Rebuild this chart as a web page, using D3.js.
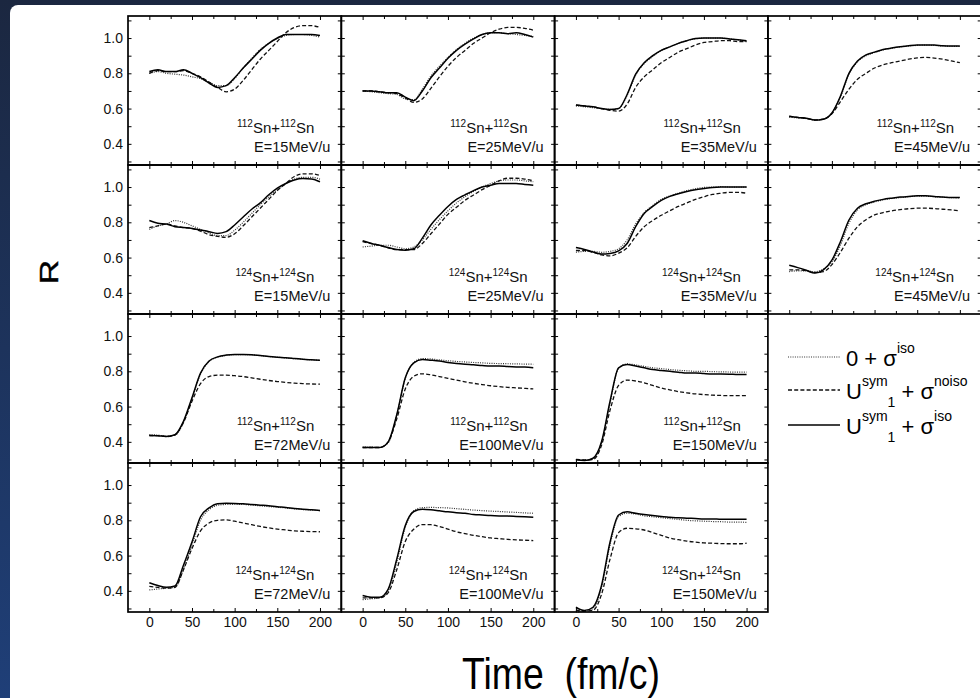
<!DOCTYPE html>
<html><head><meta charset="utf-8">
<script src="https://cdn.jsdelivr.net/npm/d3@7"></script>
<style>body{margin:0;background:#1c2a48;} svg{display:block}</style>
</head><body><svg id="c" width="980" height="698"></svg>
<script>
// ---------- data ----------
const times = [0,10,20,30,40,50,60,70,80,90,100,110,120,130,140,150,160,170,180,190,200];
const xTicks = [0,50,100,150,200];
const yTicks = [0.4,0.6,0.8,1.0];
const seriesNames = ["0 + σ", "U", "U"];

// 112Sn+112Sn
const dot112_15 = [0.80,0.81,0.80,0.795,0.79,0.78,0.77,0.75,0.73,0.73,0.77,0.83,0.885,0.935,0.97,0.995,1.015,1.02,1.02,1.015,1.005];
const dash112_15 = [0.80,0.815,0.81,0.81,0.815,0.80,0.78,0.75,0.72,0.695,0.71,0.76,0.82,0.88,0.93,0.98,1.03,1.06,1.07,1.07,1.06];
const sol112_15 = [0.81,0.82,0.81,0.81,0.82,0.80,0.775,0.745,0.72,0.73,0.775,0.83,0.88,0.93,0.97,1.0,1.02,1.02,1.02,1.02,1.015];

const dot112_25 = [0.70,0.695,0.69,0.685,0.68,0.655,0.65,0.71,0.785,0.84,0.89,0.935,0.97,1.0,1.02,1.03,1.03,1.025,1.02,1.015,1.01];
const dash112_25 = [0.70,0.70,0.695,0.69,0.685,0.66,0.635,0.655,0.715,0.78,0.84,0.89,0.93,0.97,1.0,1.03,1.05,1.06,1.06,1.055,1.045];
const sol112_25 = [0.70,0.70,0.695,0.69,0.69,0.665,0.645,0.70,0.775,0.83,0.885,0.93,0.965,0.995,1.02,1.03,1.03,1.025,1.03,1.02,1.005];

const dot112_35 = [0.615,0.61,0.605,0.60,0.595,0.60,0.675,0.79,0.855,0.895,0.93,0.95,0.97,0.985,0.995,1.0,1.0,1.0,0.995,0.99,0.98];
const dash112_35 = [0.62,0.615,0.61,0.60,0.59,0.585,0.625,0.72,0.78,0.82,0.86,0.89,0.92,0.94,0.96,0.975,0.98,0.985,0.985,0.98,0.98];
const sol112_35 = [0.62,0.615,0.61,0.60,0.595,0.60,0.68,0.795,0.86,0.90,0.93,0.95,0.97,0.985,0.998,1.0,1.0,1.0,0.995,0.99,0.985];

const dot112_45 = [0.55,0.548,0.543,0.535,0.54,0.575,0.665,0.795,0.865,0.90,0.918,0.933,0.942,0.95,0.955,0.958,0.96,0.958,0.955,0.953,0.952];
const dash112_45 = [0.556,0.55,0.545,0.535,0.54,0.57,0.64,0.71,0.766,0.80,0.83,0.848,0.86,0.87,0.88,0.887,0.89,0.886,0.88,0.87,0.86];
const sol112_45 = [0.556,0.55,0.545,0.535,0.54,0.575,0.67,0.80,0.87,0.905,0.92,0.935,0.943,0.95,0.956,0.96,0.96,0.96,0.956,0.955,0.955];

const dot112_72 = [0.44,0.438,0.432,0.438,0.51,0.645,0.785,0.855,0.88,0.89,0.895,0.895,0.893,0.889,0.884,0.88,0.876,0.872,0.868,0.865,0.862];
const dash112_72 = [0.436,0.435,0.43,0.44,0.51,0.63,0.73,0.77,0.778,0.778,0.775,0.77,0.763,0.755,0.748,0.742,0.737,0.733,0.73,0.728,0.727];
const sol112_72 = [0.436,0.435,0.43,0.44,0.516,0.65,0.79,0.858,0.882,0.892,0.896,0.896,0.894,0.89,0.884,0.88,0.877,0.873,0.869,0.865,0.863];

const dot112_100 = [0.37,0.37,0.368,0.395,0.55,0.76,0.85,0.872,0.87,0.865,0.86,0.856,0.853,0.85,0.848,0.845,0.844,0.843,0.842,0.841,0.84];
const dash112_100 = [0.368,0.368,0.368,0.40,0.53,0.70,0.772,0.786,0.78,0.77,0.76,0.75,0.74,0.732,0.725,0.718,0.713,0.709,0.706,0.703,0.70];
const sol112_100 = [0.368,0.368,0.368,0.40,0.554,0.763,0.848,0.867,0.863,0.858,0.85,0.844,0.84,0.837,0.833,0.83,0.83,0.827,0.825,0.824,0.82];

const dot112_150 = [0.30,0.296,0.305,0.395,0.62,0.818,0.842,0.836,0.828,0.82,0.815,0.81,0.806,0.803,0.80,0.80,0.798,0.797,0.796,0.795,0.795];
const dash112_150 = [0.30,0.298,0.30,0.38,0.58,0.72,0.75,0.745,0.735,0.72,0.705,0.695,0.685,0.678,0.672,0.668,0.665,0.663,0.662,0.662,0.662];
const sol112_150 = [0.298,0.294,0.307,0.40,0.63,0.82,0.838,0.83,0.82,0.81,0.805,0.80,0.795,0.79,0.79,0.787,0.785,0.785,0.784,0.782,0.782];

// 124Sn+124Sn
const dot124_15 = [0.76,0.78,0.79,0.81,0.80,0.78,0.76,0.74,0.725,0.725,0.755,0.80,0.85,0.90,0.945,0.985,1.02,1.045,1.055,1.055,1.045];
const dash124_15 = [0.77,0.78,0.79,0.78,0.77,0.765,0.75,0.73,0.72,0.715,0.735,0.78,0.83,0.88,0.93,0.98,1.02,1.06,1.075,1.075,1.065];
const sol124_15 = [0.81,0.795,0.79,0.775,0.77,0.765,0.756,0.747,0.737,0.747,0.785,0.83,0.874,0.91,0.956,0.994,1.02,1.04,1.048,1.046,1.03];

const dot124_25 = [0.66,0.665,0.67,0.67,0.66,0.65,0.66,0.70,0.76,0.815,0.865,0.91,0.945,0.975,1.0,1.02,1.035,1.04,1.04,1.035,1.03];
const dash124_25 = [0.69,0.68,0.67,0.655,0.645,0.645,0.645,0.68,0.735,0.79,0.845,0.885,0.925,0.955,0.985,1.01,1.035,1.05,1.05,1.045,1.035];
const sol124_25 = [0.695,0.68,0.67,0.657,0.646,0.642,0.65,0.71,0.785,0.84,0.89,0.93,0.956,0.98,1.0,1.01,1.02,1.02,1.02,1.015,1.01];

const dot124_35 = [0.63,0.635,0.635,0.63,0.635,0.65,0.70,0.79,0.855,0.895,0.93,0.95,0.965,0.98,0.99,0.998,1.0,1.002,1.0,1.0,1.0];
const dash124_35 = [0.64,0.64,0.63,0.615,0.61,0.625,0.655,0.72,0.775,0.81,0.84,0.865,0.89,0.91,0.93,0.945,0.958,0.965,0.97,0.97,0.965];
const sol124_35 = [0.657,0.646,0.632,0.62,0.623,0.638,0.68,0.775,0.85,0.89,0.924,0.947,0.962,0.975,0.985,0.992,0.998,1.0,1.0,1.0,1.0];

const dot124_45 = [0.52,0.525,0.525,0.52,0.535,0.575,0.67,0.795,0.87,0.90,0.915,0.927,0.935,0.94,0.945,0.948,0.948,0.945,0.942,0.94,0.938];
const dash124_45 = [0.53,0.53,0.525,0.515,0.52,0.56,0.63,0.71,0.775,0.815,0.842,0.855,0.865,0.872,0.877,0.88,0.88,0.878,0.874,0.87,0.865];
const sol124_45 = [0.556,0.543,0.528,0.512,0.53,0.585,0.69,0.813,0.88,0.905,0.92,0.93,0.937,0.943,0.947,0.95,0.95,0.947,0.943,0.94,0.94];

const dot124_72 = [0.405,0.41,0.415,0.42,0.52,0.66,0.80,0.86,0.885,0.89,0.891,0.89,0.886,0.882,0.878,0.874,0.87,0.865,0.861,0.858,0.855];
const dash124_72 = [0.425,0.42,0.415,0.42,0.52,0.64,0.74,0.785,0.80,0.802,0.795,0.785,0.775,0.765,0.757,0.75,0.745,0.74,0.738,0.736,0.735];
const sol124_72 = [0.446,0.43,0.42,0.427,0.545,0.677,0.82,0.87,0.894,0.897,0.896,0.894,0.89,0.886,0.882,0.877,0.873,0.867,0.863,0.86,0.856];

const dot124_100 = [0.35,0.355,0.36,0.40,0.56,0.76,0.855,0.872,0.873,0.872,0.87,0.866,0.862,0.858,0.855,0.852,0.85,0.847,0.845,0.842,0.84];
const dash124_100 = [0.36,0.36,0.36,0.39,0.52,0.68,0.75,0.776,0.775,0.765,0.75,0.735,0.725,0.715,0.707,0.70,0.696,0.692,0.689,0.687,0.685];
const sol124_100 = [0.374,0.364,0.364,0.41,0.58,0.77,0.85,0.863,0.86,0.854,0.848,0.843,0.84,0.833,0.83,0.827,0.825,0.824,0.822,0.82,0.818];

const dot124_150 = [0.28,0.285,0.30,0.42,0.66,0.82,0.84,0.835,0.825,0.82,0.815,0.81,0.805,0.80,0.797,0.795,0.793,0.792,0.79,0.79,0.788];
const dash124_150 = [0.29,0.285,0.29,0.38,0.58,0.73,0.755,0.752,0.745,0.73,0.715,0.70,0.69,0.682,0.676,0.672,0.67,0.668,0.667,0.667,0.67];
const sol124_150 = [0.307,0.288,0.307,0.43,0.677,0.83,0.848,0.84,0.833,0.827,0.822,0.818,0.814,0.812,0.81,0.808,0.808,0.806,0.806,0.806,0.806];

// ---------- panels (built from arrays) ----------
const panels = [
  {r:0,c:0,A:"112",E:"15",s:[dot112_15,dash112_15,sol112_15]},
  {r:0,c:1,A:"112",E:"25",s:[dot112_25,dash112_25,sol112_25]},
  {r:0,c:2,A:"112",E:"35",s:[dot112_35,dash112_35,sol112_35]},
  {r:0,c:3,A:"112",E:"45",s:[dot112_45,dash112_45,sol112_45]},
  {r:1,c:0,A:"124",E:"15",s:[dot124_15,dash124_15,sol124_15]},
  {r:1,c:1,A:"124",E:"25",s:[dot124_25,dash124_25,sol124_25]},
  {r:1,c:2,A:"124",E:"35",s:[dot124_35,dash124_35,sol124_35]},
  {r:1,c:3,A:"124",E:"45",s:[dot124_45,dash124_45,sol124_45]},
  {r:2,c:0,A:"112",E:"72",s:[dot112_72,dash112_72,sol112_72]},
  {r:2,c:1,A:"112",E:"100",s:[dot112_100,dash112_100,sol112_100]},
  {r:2,c:2,A:"112",E:"150",s:[dot112_150,dash112_150,sol112_150]},
  {r:3,c:0,A:"124",E:"72",s:[dot124_72,dash124_72,sol124_72]},
  {r:3,c:1,A:"124",E:"100",s:[dot124_100,dash124_100,sol124_100]},
  {r:3,c:2,A:"124",E:"150",s:[dot124_150,dash124_150,sol124_150]}
];

// ---------- drawing ----------
const svg = d3.select("#c");
const FONT = "'Liberation Sans', Arial, Helvetica, sans-serif";
const defs = svg.append("defs");
const grad = defs.append("linearGradient").attr("id","bg").attr("x1",0).attr("y1",0).attr("x2",0).attr("y2",1);
grad.append("stop").attr("offset","0").attr("stop-color","#1b2740");
grad.append("stop").attr("offset","1").attr("stop-color","#1f3f78");
svg.append("rect").attr("width",980).attr("height",698).attr("fill","url(#bg)");
svg.append("rect").attr("x",10).attr("y",5).attr("width",990).attr("height",720).attr("rx",8).attr("fill","#fff");

const L0 = 128, PW = 213.3, T0 = 16, PH = 149;
const styles = [
  {dash:"1,1.3", w:1.2, col:"#333"},
  {dash:"4,2.2", w:1.3, col:"#111"},
  {dash:null, w:1.5, col:"#000"}
];

panels.forEach(p => {
  const L = L0 + p.c*PW, T = T0 + p.r*PH;
  const x = d3.scaleLinear().domain([-25,225]).range([L, L+PW]);
  const y = d3.scaleLinear().domain([0.28,1.125]).range([T+PH, T]);
  const g = svg.append("g");
  // ticks
  const xt = d3.range(0,201,25), yt = d3.range(0.3,1.11,0.1);
  const tk = (gen, vals) => gen.tickValues(vals).tickFormat("").tickSizeOuter(0);
  [[d3.axisBottom, T, xt.filter(v=>v%50===0), 4],[d3.axisBottom, T, xt.filter(v=>v%50!==0), 3],
   [d3.axisTop, T+PH, xt.filter(v=>v%50===0), 4],[d3.axisTop, T+PH, xt.filter(v=>v%50!==0), 3]].forEach(([A,ty,vals,sz])=>{
    const a = g.append("g").attr("transform",`translate(0,${ty})`).call(tk(A(x),vals).tickSizeInner(sz));
    a.select(".domain").remove(); a.selectAll("line").attr("stroke","#000").attr("stroke-width",1);
  });
  [[d3.axisRight, L],[d3.axisLeft, L+PW]].forEach(([A,tx])=>{
    const a = g.append("g").attr("transform",`translate(${tx},0)`).call(tk(A(y),yt).tickSizeInner(3.5));
    a.select(".domain").remove(); a.selectAll("line").attr("stroke","#000").attr("stroke-width",1);
  });
  // curves
  const line = d3.line().x((d,i)=>x(times[i])).y(d=>y(d)).curve(d3.curveMonotoneX);
  p.s.forEach((arr,k)=>{
    const st = styles[k];
    g.append("path").attr("d", line(arr)).attr("fill","none").attr("stroke",st.col)
      .attr("stroke-width",st.w).attr("stroke-dasharray",st.dash).attr("stroke-linejoin","round");
  });
  // frame
  g.append("rect").attr("x",L).attr("y",T).attr("width",PW).attr("height",PH)
    .attr("fill","none").attr("stroke","#000").attr("stroke-width",1.7);
  // labels
  const t1 = g.append("text").attr("x",L+PW-27).attr("y",T+PH-32).attr("text-anchor","end")
    .attr("font-family",FONT).attr("font-size",15).attr("fill","#111");
  t1.append("tspan").attr("font-size",10).attr("dy",-6).text(p.A);
  t1.append("tspan").attr("dy",6).text("Sn+");
  t1.append("tspan").attr("font-size",10).attr("dy",-6).text(p.A);
  t1.append("tspan").attr("dy",6).text("Sn");
  g.append("text").attr("x",L+PW-11).attr("y",T+PH-13).attr("text-anchor","end")
    .attr("font-family",FONT).attr("font-size",14.5).attr("fill","#111").text(`E=${p.E}MeV/u`);
  // y tick labels (first column)
  if (p.c===0) {
    const a = g.append("g").attr("transform",`translate(${L},0)`)
      .call(d3.axisLeft(y).tickValues(yTicks).tickFormat(d3.format(".1f")).tickSize(0).tickPadding(5));
    a.select(".domain").remove();
    a.selectAll("text").attr("font-family",FONT).attr("font-size",14).attr("fill","#111");
  }
  // x tick labels (bottom row)
  if (p.r===3) {
    const a = g.append("g").attr("transform",`translate(0,${T+PH})`)
      .call(d3.axisBottom(x).tickValues(xTicks).tickFormat(d3.format("d")).tickSize(0).tickPadding(5));
    a.select(".domain").remove();
    a.selectAll("text").attr("font-family",FONT).attr("font-size",14).attr("fill","#111");
  }
});

// axis titles
svg.append("text").attr("transform","translate(58,272) rotate(-90) scale(1.3,1)")
  .attr("text-anchor","middle").attr("font-family",FONT).attr("font-size",26)
  .attr("fill","#000").attr("stroke","#000").attr("stroke-width",0.4).text("R");
svg.append("text").attr("transform","translate(561,689) scale(0.85,1)")
  .attr("text-anchor","middle").attr("font-family",FONT).attr("font-size",44).attr("fill","#000")
  .style("white-space","pre").text("Time  (fm/c)");

// legend
const legY = [357, 390, 425];
const lg = svg.append("g");
styles.forEach((st,k)=>{
  lg.append("line").attr("x1",788).attr("x2",840).attr("y1",legY[k]).attr("y2",legY[k])
    .attr("stroke",st.col).attr("stroke-width",st.w).attr("stroke-dasharray",st.dash);
});
const sups = ["iso","noiso","iso"];
const base = [366, 399, 434];
seriesNames.forEach((nm,k)=>{
  const t = lg.append("text").attr("x",846).attr("y",base[k]).attr("font-family",FONT)
    .attr("font-size",22).attr("fill","#000").style("white-space","pre");
  if (k===0) {
    t.append("tspan").text("0 + σ");
    t.append("tspan").attr("font-size",14).attr("dy",-13).text(sups[k]);
  } else {
    t.append("tspan").text("U");
    t.append("tspan").attr("font-size",14).attr("dy",-13).text("sym");
    t.append("tspan").attr("font-size",14).attr("dy",21).text("1");
    t.append("tspan").attr("dy",-8).text(" + σ");
    t.append("tspan").attr("font-size",14).attr("dy",-13).text(sups[k]);
  }
});
</script></body></html>
